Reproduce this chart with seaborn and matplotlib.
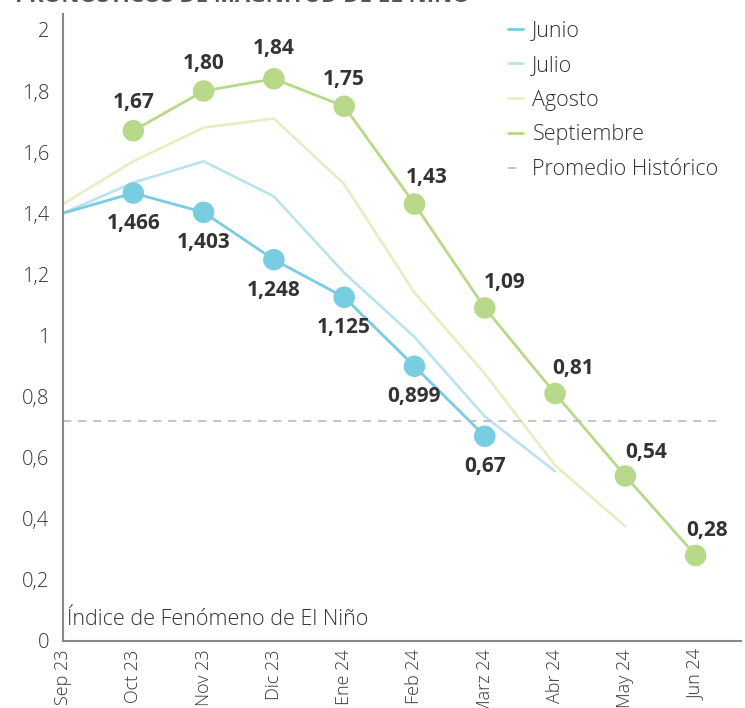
import matplotlib
matplotlib.use("Agg")
import matplotlib.pyplot as plt
import numpy as np
import pandas as pd
import seaborn as sns

# --- data ---
months = ["Sep 23", "Oct 23", "Nov 23", "Dic 23", "Ene 24", "Feb 24",
          "Marz 24", "Abr 24", "May 24", "Jun 24"]

junio = [1.40, 1.466, 1.403, 1.248, 1.125, 0.899, 0.67]
julio = [1.40, 1.50, 1.57, 1.455, 1.205, 0.995, 0.735, 0.555]
agosto = [1.43, 1.57, 1.68, 1.71, 1.495, 1.14, 0.875, 0.575, 0.375]
septiembre = [1.67, 1.80, 1.84, 1.75, 1.43, 1.09, 0.81, 0.54, 0.28]   # from Oct 23
promedio = 0.72

junio_labels = ["1,466", "1,403", "1,248", "1,125", "0,899", "0,67"]
sept_labels = ["1,67", "1,80", "1,84", "1,75", "1,43", "1,09", "0,81", "0,54", "0,28"]

yticks = [0, 0.2, 0.4, 0.6, 0.8, 1, 1.2, 1.4, 1.6, 1.8, 2]
ytick_labels = ["0", "0,2", "0,4", "0,6", "0,8", "1", "1,2", "1,4", "1,6", "1,8", "2"]

C_JUN = "#79CDE1"
C_JUL = "#BCE2EE"
C_AGO = "#E6EEC1"
C_SEP = "#B8D88A"
C_TXT = "#333333"

sns.set_style("white")
plt.rcParams["font.family"] = ["Open Sans", "DejaVu Sans"]

fig = plt.figure(figsize=(7.45, 7.08), dpi=100)
ax = fig.add_axes([63 / 745, 67 / 708, 678 / 745, 627 / 708])

x_jun = np.arange(len(junio))
x_jul = np.arange(len(julio))
x_ago = np.arange(len(agosto))
x_sep = np.arange(1, len(septiembre) + 1)

sns.lineplot(x=x_ago, y=agosto, ax=ax, color=C_AGO, linewidth=1.9, label="Agosto")
sns.lineplot(x=x_jul, y=julio, ax=ax, color=C_JUL, linewidth=1.9, label="Julio")
sns.lineplot(x=x_sep, y=septiembre, ax=ax, color=C_SEP, linewidth=2.0, label="Septiembre")
sns.lineplot(x=x_jun, y=junio, ax=ax, color=C_JUN, linewidth=2.0, label="Junio")
ax.axhline(promedio, xmin=0, xmax=(722 - 63) / 678, color="#BBBBBB",
           linestyle=(0, (5, 4)), linewidth=1.2, label="Promedio Histórico")

sns.scatterplot(x=x_jun[1:], y=junio[1:], ax=ax, color=C_JUN, s=240,
                edgecolor="none", zorder=5, legend=False)
sns.scatterplot(x=x_sep, y=septiembre, ax=ax, color=C_SEP, s=240,
                edgecolor="none", zorder=5, legend=False)

# value labels
for xi, yi, lab in zip(x_jun[1:], junio[1:], junio_labels):
    ax.annotate(lab, (xi, yi), xytext=(0, -22), textcoords="offset points",
                ha="center", va="center", fontsize=15, fontweight="bold", color=C_TXT)
sep_dx = [0, 0, 0, 0, 9, 14, 13, 15, 8]
sep_dy = [20, 20, 22, 19, 19, 18, 18, 17, 18]
for xi, yi, lab, dx, dy in zip(x_sep, septiembre, sept_labels, sep_dx, sep_dy):
    ax.annotate(lab, (xi, yi), xytext=(dx, dy), textcoords="offset points",
                ha="center", va="center", fontsize=15, fontweight="bold", color=C_TXT)

ax.set_xlim(0, 9.645)
ax.set_ylim(0, 2.052)
ax.set_xticks(range(len(months)))
ax.set_xticklabels(months, rotation=90, fontsize=13, color=C_TXT, fontweight="light")
ax.set_yticks(yticks)
ax.set_yticklabels(ytick_labels, fontsize=14.5, color=C_TXT, fontweight="light")
ax.tick_params(axis="both", length=0, pad=10)
ax.tick_params(axis="x", pad=6)

for side in ["top", "right"]:
    ax.spines[side].set_visible(False)
for side in ["left", "bottom"]:
    ax.spines[side].set_color("#888888")
    ax.spines[side].set_linewidth(1.5)

ax.text(0.006, 0.035, "Índice de Fenómeno de El Niño", transform=ax.transAxes,
        fontsize=15.5, color=C_TXT, fontweight="light", va="center", ha="left")

handles, labels = ax.get_legend_handles_labels()
order = ["Junio", "Julio", "Agosto", "Septiembre", "Promedio Histórico"]
hmap = dict(zip(labels, handles))
leg = ax.legend([hmap[k] for k in order], order, loc="upper left",
                bbox_to_anchor=(436 / 678, 1.004), frameon=False, fontsize=15.5,
                handlelength=0.7, handletextpad=0.45, labelspacing=0.64,
                borderaxespad=0.0)
for t in leg.get_texts():
    t.set_color(C_TXT)
    t.set_fontweight("light")

fig.text(15 / 745, 1 - 2 / 708, "PRONÓSTICOS DE MAGNITUD DE EL NIÑO",
         fontsize=16, fontweight="bold", color="#555555", va="baseline", ha="left")

fig.savefig("out.png", dpi=100)
